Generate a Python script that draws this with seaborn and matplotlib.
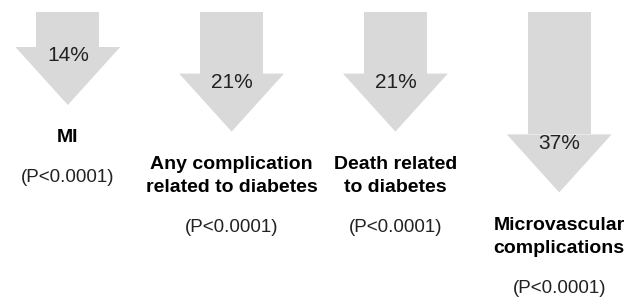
import numpy as np
import matplotlib
matplotlib.use('Agg')
import matplotlib.pyplot as plt
import seaborn as sns

sns.set_style("white")
plt.rcParams['font.family'] = ['Liberation Sans', 'DejaVu Sans']

# Data
outcomes = ['MI', 'Any complication\nrelated to diabetes', 'Death related\nto diabetes',
            'Microvascular\ncomplications']
reduction_pct = [14, 21, 21, 37]
pct_labels = ['14%', '21%', '21%', '37%']
p_values = ['(P<0.0001)', '(P<0.0001)', '(P<0.0001)', '(P<0.0001)']

arrow_color = '#d9d9d9'
px = 1 / 3.8            # one pixel in data units (y axis)
head_len = 58 * px
head_half = 0.32
shaft_w = 0.384

fig = plt.figure(figsize=(6.29, 3.02), dpi=100)
fig.patch.set_facecolor('white')
# arrow axes starts 12px below the top edge, shafts are clipped there
ax = fig.add_axes([0, 0, 1, 290 / 302])

sns.barplot(x=list(range(len(reduction_pct))), y=reduction_pct, color=arrow_color,
            saturation=1, width=shaft_w, linewidth=0, ax=ax)

top = 4.79
ax.set_ylim(top + 290 * px, top)
ax.set_xlim(-0.414, 3.426)
ax.axis('off')

for i, v in enumerate(reduction_pct):
    # arrow head
    ax.fill([i - head_half, i + head_half, i], [v, v, v + head_len],
            color=arrow_color, linewidth=0)
    ax.text(i, v + 9 * px, pct_labels[i], ha='center', va='center',
            fontsize=15, color='#222222')
    lines = outcomes[i].split('\n')
    tip = v + head_len
    for j, line in enumerate(lines):
        ax.text(i, tip + (33 + 23 * j) * px, line, ha='center', va='center',
                fontsize=14, fontweight='bold', color='black', clip_on=False)
    ax.text(i, tip + (33 + 23 * (len(lines) - 1) + 40) * px, p_values[i],
            ha='center', va='center', fontsize=13.5, color='#222222', clip_on=False)

plt.savefig('out.png', dpi=100, facecolor='white')
plt.close()
